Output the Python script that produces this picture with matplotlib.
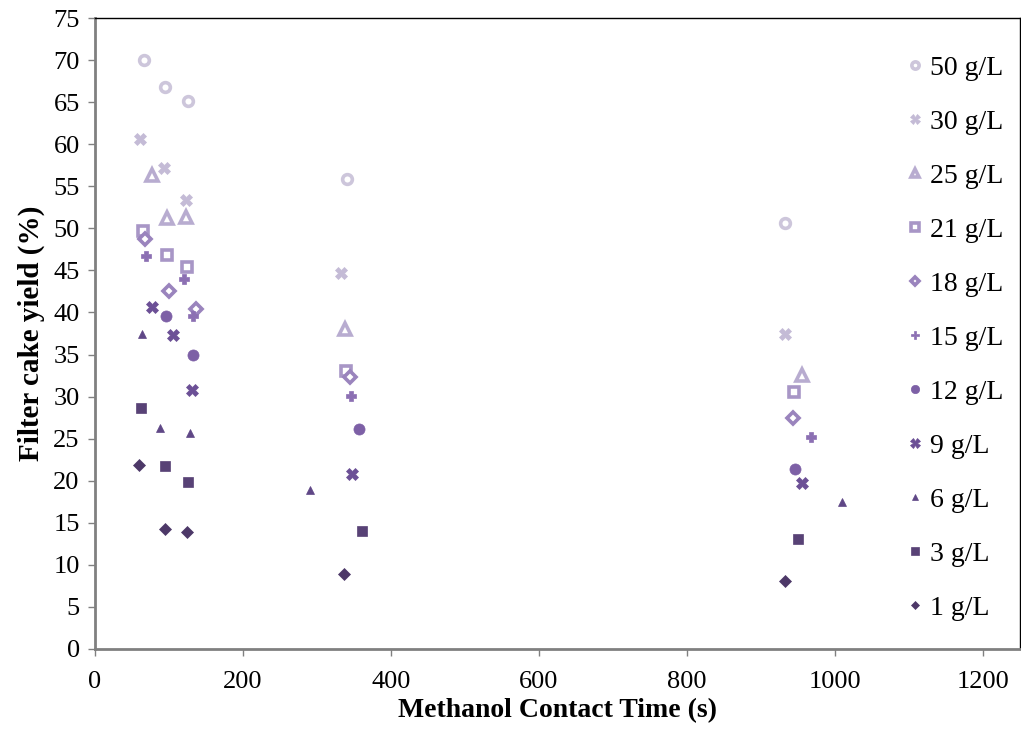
import matplotlib.pyplot as plt
import numpy as np

plt.rcParams['font.family'] = ['Liberation Serif', 'DejaVu Serif']

# series (g/L) with contact time (s) and filter cake yield (%)
labels = ['50 g/L', '30 g/L', '25 g/L', '21 g/L', '18 g/L', '15 g/L',
          '12 g/L', '9 g/L', '6 g/L', '3 g/L', '1 g/L']

x50 = [66, 95, 126, 340, 932]
y50 = [70.0, 66.8, 65.2, 55.9, 50.7]
x30 = [61, 93, 123, 333, 932]
y30 = [60.6, 57.2, 53.4, 44.7, 37.4]
x25 = [77, 97, 123, 338, 955]
y25 = [56.3, 51.2, 51.3, 38.0, 32.6]
x21 = [65, 97, 125, 339, 944]
y21 = [49.7, 46.8, 45.4, 33.1, 30.5]
x18 = [67, 100, 136, 344, 943]
y18 = [48.7, 42.6, 40.4, 32.3, 27.4]
x15 = [69, 120, 133, 346, 967]
y15 = [46.7, 44.0, 39.6, 30.1, 25.2]
x12 = [96, 132, 357, 946]
y12 = [39.6, 35.0, 26.2, 21.4]
x9 = [77, 106, 131, 348, 956]
y9 = [40.7, 37.3, 30.8, 20.8, 19.7]
x6 = [63, 88, 128, 290, 1010]
y6 = [37.4, 26.3, 25.7, 18.9, 17.5]
x3 = [62, 95, 126, 361, 950]
y3 = [28.6, 21.7, 19.8, 14.0, 13.1]
x1 = [59, 94, 124, 337, 932]
y1 = [21.9, 14.2, 13.9, 8.9, 8.1]

xs = [x50, x30, x25, x21, x18, x15, x12, x9, x6, x3, x1]
ys = [y50, y30, y25, y21, y18, y15, y12, y9, y6, y3, y1]

colors = ['#cdc6db', '#c4bbd6', '#b8acd0', '#a896c6', '#9a84bd', '#8c70b3',
          '#7d60a6', '#6c5096', '#5f4786', '#584276', '#4d3868']
markers = ['o', 'X', '^', 's', 'D', 'P', 'o', 'X', '^', 's', 'D']
hollow = [True, False, True, True, True, False, False, False, False, False, False]
sizes = [7, 9, 8, 7, 6, 7, 8, 9, 6, 7, 6]

fig = plt.figure(figsize=(10.21, 7.29), dpi=100)
ax = fig.add_axes([0.093, 0.110, 0.906, 0.865])

for i in range(len(labels)):
    if hollow[i]:
        ax.plot(xs[i], ys[i], linestyle='none', marker=markers[i], ms=sizes[i],
                mfc='white', mec=colors[i], mew=2.6, label=labels[i])
    else:
        ax.plot(xs[i], ys[i], linestyle='none', marker=markers[i], ms=sizes[i],
                mfc=colors[i], mec=colors[i], mew=0.5, label=labels[i])

ax.set_xlim(0, 1250)
ax.set_ylim(0, 75)
ax.set_xticks(np.arange(0, 1201, 200))
ax.set_yticks(np.arange(0, 76, 5))
ax.tick_params(labelsize=19, direction='out', length=5, width=1, color='#808080')
ax.tick_params(axis='x', pad=11)
ax.tick_params(axis='y', pad=6)

for s in ['left', 'bottom']:
    ax.spines[s].set_color('#808080')
    ax.spines[s].set_linewidth(2)
for s in ['top', 'right']:
    ax.spines[s].set_color('black')
    ax.spines[s].set_linewidth(1)

ax.set_xlabel('Methanol Contact Time (s)', fontsize=20, fontweight='bold', labelpad=4)
ax.set_ylabel('Filter cake yield (%)', fontsize=21, fontweight='bold', labelpad=6)

leg = ax.legend(loc='upper right', frameon=False, fontsize=20, labelspacing=1.03,
                handletextpad=0.05, handlelength=1.0, markerscale=0.75,
                borderaxespad=0.2, bbox_to_anchor=(1.0, 0.968))

fig.savefig('out.png', dpi=100)
